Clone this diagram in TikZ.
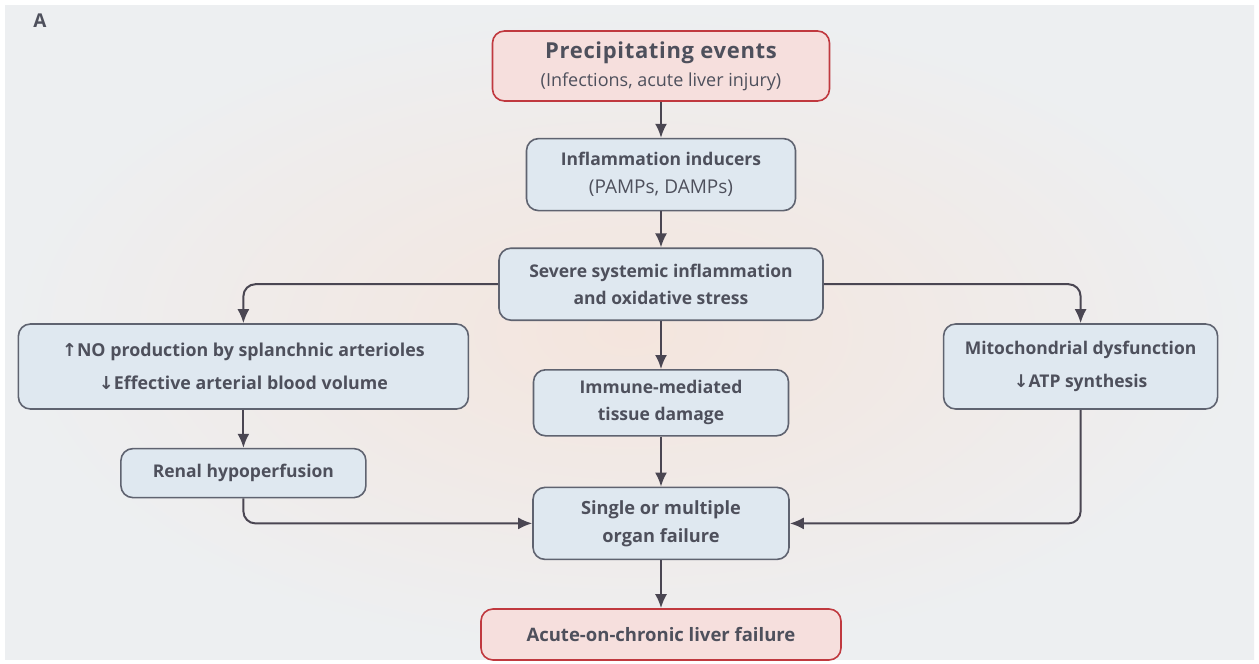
\documentclass[tikz,border=0pt]{standalone}
\usepackage{fontspec}
\setmainfont{Open Sans}
\newfontfamily\arrowfont{DejaVu Sans}
\usepackage{xcolor}
\usepackage{tikz}
\usetikzlibrary{positioning}
\usetikzlibrary{arrows.meta}
\tikzset{>={Latex[width=12pt,length=14pt]}}
\definecolor{boxblue}{HTML}{DFE8F0}
\definecolor{boxpink}{HTML}{F6DFDD}
\definecolor{edgegray}{HTML}{5F6370}
\definecolor{edgered}{HTML}{C0393F}
\definecolor{txtgray}{HTML}{4E505C}
\definecolor{arrowgray}{HTML}{4A4652}
\definecolor{bgwarm}{HTML}{F4E5DD}
\definecolor{bgcool}{HTML}{EDEFF1}
\newcommand{\uparr}{{\arrowfont\char"2191}}
\newcommand{\downarr}{{\arrowfont\char"2193}}
\newcommand{\headline}[1]{{\fontsize{22}{28}\selectfont\bfseries\addfontfeature{LetterSpace=3}#1}}

\begin{document}
\begin{tikzpicture}[x=1pt, y=1pt, line width=2pt, node distance=36pt, font=\fontsize{17.5}{28}\selectfont]
	\tikzstyle{blue box}=[draw=edgegray, fill=boxblue, rounded corners=12pt, text=txtgray, align=center, inner sep=0pt, line width=1.6pt]
	\tikzstyle{red box}=[blue box, draw=edgered, fill=boxpink]
	\tikzstyle{link}=[->, draw=arrowgray, rounded corners=12pt]

	\fill[white] (0,0) rectangle (1259,-664);
	\shade[inner color=bgwarm, outer color=bgcool] (5,-5) rectangle (1254,-659);
	\useasboundingbox (0,0) rectangle (1259,-664);

	\node[text=txtgray, font=\fontsize{19}{24}\selectfont\bfseries] (panel) at (40,-21) {A};

	\node[red box, minimum width=337pt, minimum height=70pt] (events) at (661,-66) {\headline{Precipitating events}\\{\fontsize{18}{28}\selectfont(Infections, acute liver injury)}};
	\node[blue box, minimum width=269pt, minimum height=72pt] (inducers) [below=of events] {\textbf{Inflammation inducers}\\{\fontsize{19}{28}\selectfont(PAMPs, DAMPs)}};
	\node[blue box, minimum width=324pt, minimum height=72pt, font=\fontsize{17.5}{27}\selectfont\bfseries] (severe) [below=of inducers] {Severe systemic inflammation\\and oxidative stress};

	\node[blue box, minimum width=450pt, minimum height=85pt, font=\fontsize{17.8}{33}\selectfont\bfseries] (NO) [below left=39pt and 29pt of severe.west] {\uparr NO production by splanchnic arterioles\\\downarr Effective arterial blood volume};
	\node[blue box, minimum width=274pt, minimum height=85pt, font=\fontsize{17.5}{33}\selectfont\bfseries] (mito) [below right=39pt and 119pt of severe.east] {Mitochondrial dysfunction\\\downarr ATP synthesis};
	\node[blue box, minimum width=245pt, minimum height=49pt, font=\fontsize{17.5}{28}\selectfont\bfseries] (renal) [below=38pt of NO] {Renal hypoperfusion};

	\node[blue box, minimum width=255pt, minimum height=66pt, font=\fontsize{17.5}{27}\selectfont\bfseries] (immune) [below=48pt of severe] {Immune-mediated\\tissue damage};
	\node[blue box, minimum width=256pt, minimum height=72pt, font=\fontsize{18.2}{28}\selectfont\bfseries] (single) [below=50pt of immune] {Single or multiple\\organ failure};
	\node[red box, minimum width=360pt, minimum height=51pt, font=\fontsize{18.5}{28}\selectfont\bfseries] (aclf) [below=48pt of single] {Acute-on-chronic liver failure};

	\draw[link] (events) -- (inducers);
	\draw[link] (inducers) -- (severe);
	\draw[link] (severe) -- (immune);
	\draw[link] (immune) -- (single);
	\draw[link] (single) -- (aclf);
	\draw[link] (severe.west) -| (NO);
	\draw[link] (severe.east) -| (mito);
	\draw[link] (NO) -- (renal);
	\draw[link] (renal) |- (single);
	\draw[link] (mito) |- (single);
\end{tikzpicture}
\end{document}
